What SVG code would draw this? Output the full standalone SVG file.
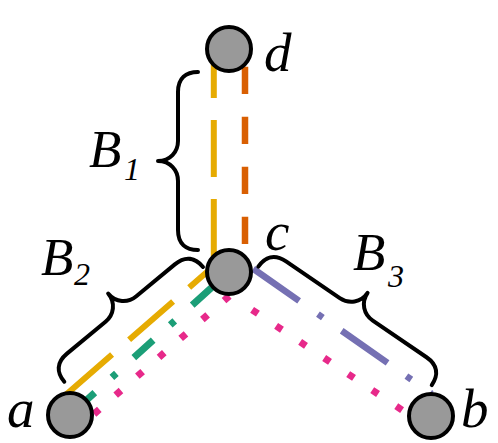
<svg xmlns="http://www.w3.org/2000/svg" width="498" height="443" viewBox="0 0 498 443">
  <style>
    .node { fill: #999999; stroke: #000000; stroke-width: 4; }
    .lbl { font-family: "Liberation Serif", "Times New Roman", serif; font-style: italic; fill: #000000; }
    .brace { fill: none; stroke: #000000; stroke-width: 4; stroke-linecap: round; stroke-linejoin: round; }
    .edge { fill: none; stroke-linecap: butt; stroke-linejoin: miter; }
  </style>
  <rect width="498" height="443" fill="#ffffff"/>

  <g id="connectors">
    <path class="edge" d="M213.8,49 V266 L63,397.3" stroke="#E6AB02" stroke-width="6" stroke-dasharray="49 22 57 22 99.6 21.4 58.3 22.6 200 1"/>
    <path class="edge" d="M245,49 V272" stroke="#D95F02" stroke-width="6.5" stroke-dasharray="27.3 22.7" stroke-dashoffset="32.3"/>
    <path class="edge" d="M229,272 L70,415" stroke="#1B9E77" stroke-width="7" stroke-dasharray="26 23.5 6 23" stroke-dashoffset="55"/>
    <path class="edge" d="M229,251.8 L431.7,393.8" stroke="#7570B3" stroke-width="6.5" stroke-dasharray="56 23 6 23" stroke-dashoffset="78.4"/>
    <path class="edge" d="M229.3,296 L75,430.6" stroke="#E7298A" stroke-width="7" stroke-dasharray="7 21.75"/>
    <path class="edge" d="M252.1,309.8 L423.2,424.2" stroke="#E7298A" stroke-width="7" stroke-dasharray="7 21.9"/>
  </g>

  <g id="braces">
    <path id="brace-B1" class="brace" transform="matrix(0,1,1,0,198,72)" d="M0,0 C0,-12 6,-20 20,-20 L69,-20 C80,-20 89,-28 89,-40 C89,-28 98,-20 109,-20 L158,-20 C172,-20 178,-12 178,0"/>
    <path id="brace-B2" class="brace" transform="matrix(-0.7705,0.6375,0.6375,0.7705,203,267)" d="M0,0 C0,-12 6,-20 20,-20 L70,-20 C81,-20 90,-28 90,-40 C90,-28 99,-20 110,-20 L160,-20 C174,-20 180,-12 180,0"/>
    <path id="brace-B3" class="brace" transform="matrix(0.826,0.5636,-0.5636,0.826,258.3,266.7)" d="M0,0 C0,-12 6,-20 20,-20 L85,-20 C96,-20 105,-28 105,-40 C105,-28 114,-20 125,-20 L190,-20 C204,-20 210,-12 210,0"/>
  </g>

  <g id="node-d">
    <circle class="node" cx="229" cy="49" r="22"/>
    <text class="lbl" x="264" y="71" font-size="55">d</text>
  </g>
  <g id="node-c">
    <circle class="node" cx="229" cy="272" r="22"/>
    <text class="lbl" x="265" y="250" font-size="55">c</text>
  </g>
  <g id="node-a">
    <circle class="node" cx="70" cy="415" r="22"/>
    <text class="lbl" x="7" y="427" font-size="55">a</text>
  </g>
  <g id="node-b">
    <circle class="node" cx="431" cy="416" r="22"/>
    <text class="lbl" x="461" y="427" font-size="55">b</text>
  </g>

  <g id="labels">
    <text class="lbl" font-size="53"><tspan x="89" y="167">B</tspan><tspan x="124" y="180" font-size="32">1</tspan></text>
    <text class="lbl" font-size="53"><tspan x="41" y="275">B</tspan><tspan x="74" y="285" font-size="32">2</tspan></text>
    <text class="lbl" font-size="53"><tspan x="353" y="270">B</tspan><tspan x="388" y="287" font-size="32">3</tspan></text>
  </g>
</svg>
